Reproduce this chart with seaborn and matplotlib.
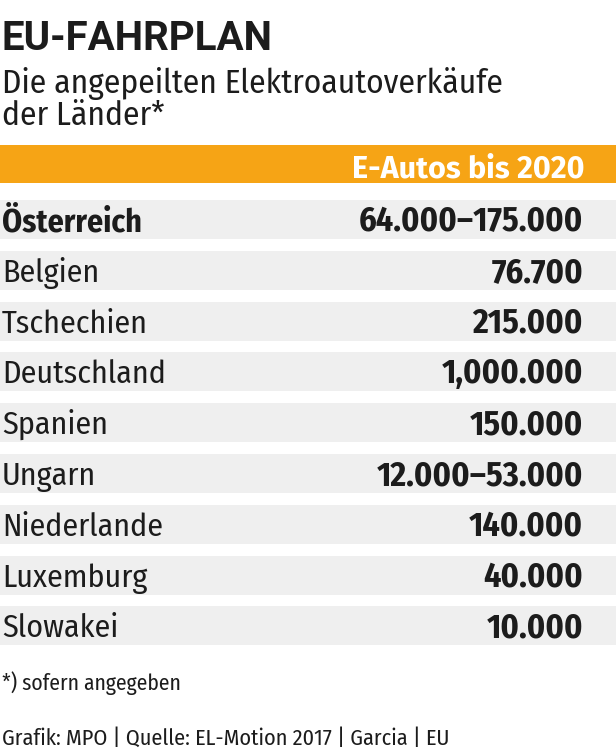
import matplotlib
matplotlib.use("Agg")
import matplotlib.pyplot as plt
from matplotlib import font_manager
import seaborn as sns
import pandas as pd

title = "EU-FAHRPLAN"
subtitle = ["Die angepeilten Elektroautoverkäufe", "der Länder*"]
header = "E-Autos bis 2020"
countries = ["Österreich", "Belgien", "Tschechien", "Deutschland", "Spanien",
             "Ungarn", "Niederlande", "Luxemburg", "Slowakei"]
targets = ["64.000–175.000", "76.700", "215.000", "1,000.000", "150.000",
           "12.000–53.000", "140.000", "40.000", "10.000"]
highlight = "Österreich"
footnote = "*) sofern angegeben"
source = "Grafik: MPO | Quelle: EL-Motion 2017 | Garcia | EU"

orange = "#f6a415"
band_grey = "#efefef"
ink = "#1c1c1c"

sns.set_theme(style="white")
names = {f.name for f in font_manager.fontManager.ttflist}


def pick(*fams):
    return next((f for f in fams if f in names), "Roboto")


body = pick("Fira Sans Condensed", "Asap Condensed", "Barlow Semi Condensed")
head = pick("Fira Sans", "Asap", "Roboto")
plt.rcParams["font.family"] = [body, "DejaVu Sans"]

W, H = 616, 750
fig = plt.figure(figsize=(W / 100, H / 100), dpi=100)

# table geometry in pixels
row_h = 50.8
first = 219.5
top_lim = -1.6
n = len(countries)
ax_top = first + top_lim * row_h
ax_bot = first + (n - 0.5) * row_h
ax = fig.add_axes([0, 1 - ax_bot / H, 1, (ax_bot - ax_top) / H])

df = pd.DataFrame({"Land": countries, "Wert": targets})
df["band"] = 1.0
sns.barplot(data=df, y="Land", x="band", color=band_grey, saturation=1,
            width=39 / row_h, linewidth=0, ax=ax)
ax.set_xlim(0, 1)
ax.set_ylim(n - 0.5, top_lim)
ax.axis("off")

# header band
ax.axhspan((145 - first) / row_h, (183 - first) / row_h, color=orange, lw=0)
tr = ax.get_yaxis_transform()
ax.text(585 / W, (177 - first) / row_h, header, transform=tr, ha="right",
        va="baseline", color="white", fontsize=22, fontweight="bold",
        family=[head, "DejaVu Sans"])

base = 11.5 / row_h
for i, (land, wert) in enumerate(zip(df["Land"], df["Wert"])):
    ax.text(2 / W, i + base, land, transform=tr, ha="left", va="baseline",
            color=ink, fontsize=23,
            fontweight="bold" if land == highlight else "normal")
    ax.text(583 / W, i + base, wert, transform=tr, ha="right", va="baseline",
            color=ink, fontsize=24.5, fontweight="bold")

# titles and notes
fig.text(1 / W, 1 - 50 / H, title, fontsize=29, fontweight="bold",
         color=ink, va="baseline", family=["Roboto", "DejaVu Sans"])
fig.text(2 / W, 1 - 93 / H, subtitle[0], fontsize=24, color=ink, va="baseline")
fig.text(2 / W, 1 - 125 / H, subtitle[1], fontsize=24, color=ink, va="baseline")
fig.text(2 / W, 1 - 690 / H, footnote, fontsize=15.5, color=ink, va="baseline")
fig.text(2 / W, 1 - 745 / H, source, fontsize=16, color=ink, va="baseline")

fig.savefig("out.png", dpi=100, facecolor="white")
